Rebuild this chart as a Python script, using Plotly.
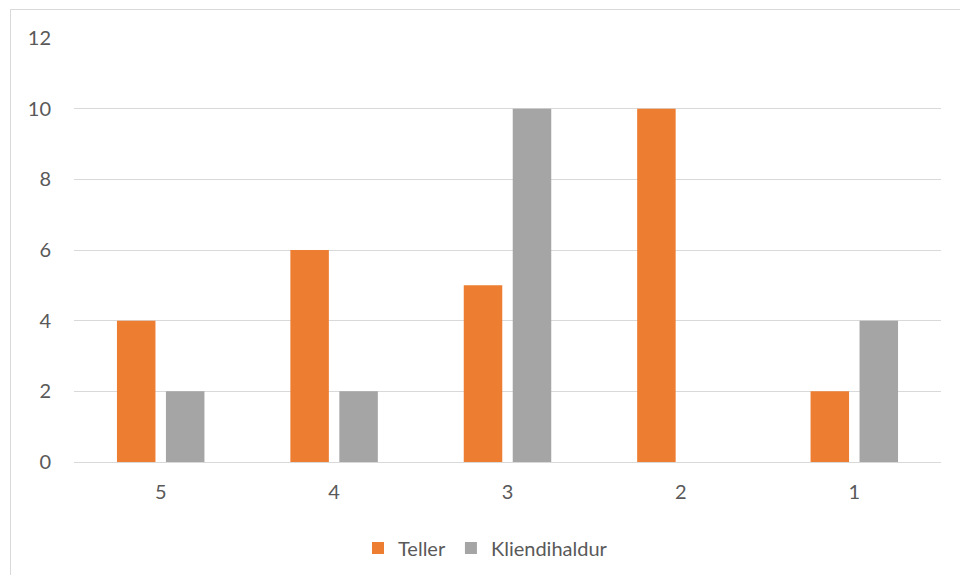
import plotly.graph_objects as go

# Survey scores and counts per respondent group
categories = ["5", "4", "3", "2", "1"]
teller = [4, 6, 5, 10, 2]
kliendihaldur = [2, 2, 10, 0, 4]
y_ticks = [0, 2, 4, 6, 8, 10, 12]

ORANGE = "#ED7D31"
GRAY = "#A5A5A5"
TEXT = "#595959"
GRID = "#D9D9D9"

# plot area geometry in pixels (960x575 canvas)
L, R, T, B = 74, 941, 38, 462
W, H = R - L, B - T


def px_x(p):
    return (p - L) / W


def px_y(p):
    return (B - p) / H


fig = go.Figure()
fig.add_trace(go.Bar(x=categories, y=teller, name="Teller",
                     marker=dict(color=ORANGE, line=dict(width=0))))
fig.add_trace(go.Bar(x=categories, y=kliendihaldur, name="Kliendihaldur",
                     marker=dict(color=GRAY, line=dict(width=0))))

fig.update_layout(
    width=960, height=575,
    margin=dict(l=L, r=960 - R, t=T, b=575 - B, pad=0, autoexpand=False),
    paper_bgcolor="white", plot_bgcolor="white",
    barmode="group", bargap=0.435, bargroupgap=0.214,
    font=dict(family="Lato, Calibri, sans-serif", size=20, color=TEXT),
    showlegend=True,
    legend=dict(orientation="h", xanchor="left", yanchor="middle",
                x=px_x(358), y=px_y(548), font=dict(size=20, color=TEXT),
                itemclick=False, itemdoubleclick=False),
    shapes=[dict(type="rect", xref="paper", yref="paper",
                 x0=px_x(10.5), x1=px_x(975), y0=px_y(590), y1=px_y(9.5),
                 line=dict(color=GRID, width=1), fillcolor="rgba(0,0,0,0)",
                 layer="below")],
)

fig.update_xaxes(type="category", showgrid=False, showline=True,
                 linecolor=GRID, linewidth=1, ticks="", ticklabelstandoff=12,
                 tickfont=dict(size=20, color=TEXT), fixedrange=True,
                 automargin=False)
fig.update_yaxes(range=[0, 12], tickvals=y_ticks, showgrid=True,
                 gridcolor=GRID, gridwidth=1, zeroline=False, showline=False,
                 ticks="", ticklabelstandoff=22,
                 tickfont=dict(size=20, color=TEXT), fixedrange=True,
                 automargin=False)

fig.write_html("out.html", config={"displayModeBar": False})
